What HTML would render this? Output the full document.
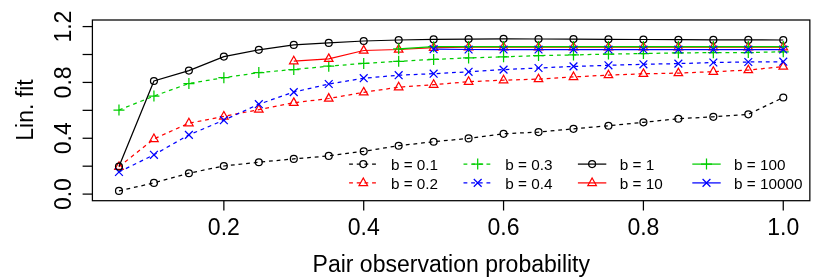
<!DOCTYPE html>
<html><head><meta charset="utf-8"><title>chart</title>
<style>html,body{margin:0;padding:0;background:#fff}svg{display:block;will-change:transform}text{font-family:"Liberation Sans",sans-serif;fill:#000}</style>
</head><body>
<svg width="830" height="277" viewBox="0 0 830 277" stroke-width="1.25">
<rect width="830" height="277" fill="#fff"/>
<path d="M118.97 190.90L153.93 182.90L188.90 173.20L223.86 166.00L258.82 162.20L293.78 158.90L328.75 155.90L363.71 151.30L398.67 145.70L433.64 141.70L468.60 138.40L503.56 133.80L538.53 132.10L573.49 128.80L608.45 125.70L643.42 122.30L678.38 118.70L713.34 116.80L748.30 114.30L783.27 97.50" fill="none" stroke="#000000" stroke-dasharray="3.83 3.83"/>
<circle cx="118.97" cy="190.90" r="3.45" fill="none" stroke="#000000"/>
<circle cx="153.93" cy="182.90" r="3.45" fill="none" stroke="#000000"/>
<circle cx="188.90" cy="173.20" r="3.45" fill="none" stroke="#000000"/>
<circle cx="223.86" cy="166.00" r="3.45" fill="none" stroke="#000000"/>
<circle cx="258.82" cy="162.20" r="3.45" fill="none" stroke="#000000"/>
<circle cx="293.78" cy="158.90" r="3.45" fill="none" stroke="#000000"/>
<circle cx="328.75" cy="155.90" r="3.45" fill="none" stroke="#000000"/>
<circle cx="363.71" cy="151.30" r="3.45" fill="none" stroke="#000000"/>
<circle cx="398.67" cy="145.70" r="3.45" fill="none" stroke="#000000"/>
<circle cx="433.64" cy="141.70" r="3.45" fill="none" stroke="#000000"/>
<circle cx="468.60" cy="138.40" r="3.45" fill="none" stroke="#000000"/>
<circle cx="503.56" cy="133.80" r="3.45" fill="none" stroke="#000000"/>
<circle cx="538.53" cy="132.10" r="3.45" fill="none" stroke="#000000"/>
<circle cx="573.49" cy="128.80" r="3.45" fill="none" stroke="#000000"/>
<circle cx="608.45" cy="125.70" r="3.45" fill="none" stroke="#000000"/>
<circle cx="643.42" cy="122.30" r="3.45" fill="none" stroke="#000000"/>
<circle cx="678.38" cy="118.70" r="3.45" fill="none" stroke="#000000"/>
<circle cx="713.34" cy="116.80" r="3.45" fill="none" stroke="#000000"/>
<circle cx="748.30" cy="114.30" r="3.45" fill="none" stroke="#000000"/>
<circle cx="783.27" cy="97.50" r="3.45" fill="none" stroke="#000000"/>
<path d="M118.97 166.80L153.93 138.90L188.90 123.20L223.86 116.40L258.82 109.60L293.78 102.80L328.75 98.50L363.71 92.30L398.67 87.20L433.64 84.70L468.60 81.70L503.56 80.20L538.53 79.10L573.49 76.90L608.45 75.10L643.42 73.80L678.38 73.10L713.34 71.70L748.30 70.10L783.27 66.60" fill="none" stroke="#FF0000" stroke-dasharray="3.83 3.83"/>
<path d="M118.97 161.90L123.22 169.40L114.72 169.40Z" fill="none" stroke="#FF0000"/>
<path d="M153.93 134.00L158.18 141.50L149.68 141.50Z" fill="none" stroke="#FF0000"/>
<path d="M188.90 118.30L193.15 125.80L184.65 125.80Z" fill="none" stroke="#FF0000"/>
<path d="M223.86 111.50L228.11 119.00L219.61 119.00Z" fill="none" stroke="#FF0000"/>
<path d="M258.82 104.70L263.07 112.20L254.57 112.20Z" fill="none" stroke="#FF0000"/>
<path d="M293.78 97.90L298.03 105.40L289.53 105.40Z" fill="none" stroke="#FF0000"/>
<path d="M328.75 93.60L333.00 101.10L324.50 101.10Z" fill="none" stroke="#FF0000"/>
<path d="M363.71 87.40L367.96 94.90L359.46 94.90Z" fill="none" stroke="#FF0000"/>
<path d="M398.67 82.30L402.92 89.80L394.42 89.80Z" fill="none" stroke="#FF0000"/>
<path d="M433.64 79.80L437.89 87.30L429.39 87.30Z" fill="none" stroke="#FF0000"/>
<path d="M468.60 76.80L472.85 84.30L464.35 84.30Z" fill="none" stroke="#FF0000"/>
<path d="M503.56 75.30L507.81 82.80L499.31 82.80Z" fill="none" stroke="#FF0000"/>
<path d="M538.53 74.20L542.78 81.70L534.28 81.70Z" fill="none" stroke="#FF0000"/>
<path d="M573.49 72.00L577.74 79.50L569.24 79.50Z" fill="none" stroke="#FF0000"/>
<path d="M608.45 70.20L612.70 77.70L604.20 77.70Z" fill="none" stroke="#FF0000"/>
<path d="M643.42 68.90L647.67 76.40L639.17 76.40Z" fill="none" stroke="#FF0000"/>
<path d="M678.38 68.20L682.63 75.70L674.13 75.70Z" fill="none" stroke="#FF0000"/>
<path d="M713.34 66.80L717.59 74.30L709.09 74.30Z" fill="none" stroke="#FF0000"/>
<path d="M748.30 65.20L752.55 72.70L744.05 72.70Z" fill="none" stroke="#FF0000"/>
<path d="M783.27 61.70L787.52 69.20L779.02 69.20Z" fill="none" stroke="#FF0000"/>
<path d="M118.97 110.00L153.93 96.10L188.90 83.50L223.86 77.70L258.82 72.60L293.78 69.50L328.75 66.20L363.71 63.40L398.67 61.30L433.64 59.40L468.60 57.90L503.56 56.80L538.53 55.60L573.49 54.90L608.45 54.10L643.42 53.60L678.38 52.80L713.34 52.70L748.30 52.50L783.27 51.80" fill="none" stroke="#00CD00" stroke-dasharray="3.83 3.83"/>
<path d="M113.47 110.00H124.47M118.97 104.50V115.50" fill="none" stroke="#00CD00"/>
<path d="M148.43 96.10H159.43M153.93 90.60V101.60" fill="none" stroke="#00CD00"/>
<path d="M183.40 83.50H194.40M188.90 78.00V89.00" fill="none" stroke="#00CD00"/>
<path d="M218.36 77.70H229.36M223.86 72.20V83.20" fill="none" stroke="#00CD00"/>
<path d="M253.32 72.60H264.32M258.82 67.10V78.10" fill="none" stroke="#00CD00"/>
<path d="M288.28 69.50H299.28M293.78 64.00V75.00" fill="none" stroke="#00CD00"/>
<path d="M323.25 66.20H334.25M328.75 60.70V71.70" fill="none" stroke="#00CD00"/>
<path d="M358.21 63.40H369.21M363.71 57.90V68.90" fill="none" stroke="#00CD00"/>
<path d="M393.17 61.30H404.17M398.67 55.80V66.80" fill="none" stroke="#00CD00"/>
<path d="M428.14 59.40H439.14M433.64 53.90V64.90" fill="none" stroke="#00CD00"/>
<path d="M463.10 57.90H474.10M468.60 52.40V63.40" fill="none" stroke="#00CD00"/>
<path d="M498.06 56.80H509.06M503.56 51.30V62.30" fill="none" stroke="#00CD00"/>
<path d="M533.03 55.60H544.03M538.53 50.10V61.10" fill="none" stroke="#00CD00"/>
<path d="M567.99 54.90H578.99M573.49 49.40V60.40" fill="none" stroke="#00CD00"/>
<path d="M602.95 54.10H613.95M608.45 48.60V59.60" fill="none" stroke="#00CD00"/>
<path d="M637.92 53.60H648.92M643.42 48.10V59.10" fill="none" stroke="#00CD00"/>
<path d="M672.88 52.80H683.88M678.38 47.30V58.30" fill="none" stroke="#00CD00"/>
<path d="M707.84 52.70H718.84M713.34 47.20V58.20" fill="none" stroke="#00CD00"/>
<path d="M742.80 52.50H753.80M748.30 47.00V58.00" fill="none" stroke="#00CD00"/>
<path d="M777.77 51.80H788.77M783.27 46.30V57.30" fill="none" stroke="#00CD00"/>
<path d="M118.97 172.00L153.93 154.80L188.90 134.90L223.86 120.20L258.82 104.20L293.78 92.10L328.75 84.00L363.71 78.20L398.67 75.20L433.64 73.70L468.60 71.80L503.56 69.60L538.53 68.00L573.49 66.40L608.45 65.30L643.42 64.30L678.38 63.60L713.34 62.50L748.30 62.00L783.27 61.70" fill="none" stroke="#0000FF" stroke-dasharray="3.83 3.83"/>
<path d="M115.07 168.10L122.87 175.90M115.07 175.90L122.87 168.10" fill="none" stroke="#0000FF"/>
<path d="M150.03 150.90L157.83 158.70M150.03 158.70L157.83 150.90" fill="none" stroke="#0000FF"/>
<path d="M185.00 131.00L192.80 138.80M185.00 138.80L192.80 131.00" fill="none" stroke="#0000FF"/>
<path d="M219.96 116.30L227.76 124.10M219.96 124.10L227.76 116.30" fill="none" stroke="#0000FF"/>
<path d="M254.92 100.30L262.72 108.10M254.92 108.10L262.72 100.30" fill="none" stroke="#0000FF"/>
<path d="M289.88 88.20L297.68 96.00M289.88 96.00L297.68 88.20" fill="none" stroke="#0000FF"/>
<path d="M324.85 80.10L332.65 87.90M324.85 87.90L332.65 80.10" fill="none" stroke="#0000FF"/>
<path d="M359.81 74.30L367.61 82.10M359.81 82.10L367.61 74.30" fill="none" stroke="#0000FF"/>
<path d="M394.77 71.30L402.57 79.10M394.77 79.10L402.57 71.30" fill="none" stroke="#0000FF"/>
<path d="M429.74 69.80L437.54 77.60M429.74 77.60L437.54 69.80" fill="none" stroke="#0000FF"/>
<path d="M464.70 67.90L472.50 75.70M464.70 75.70L472.50 67.90" fill="none" stroke="#0000FF"/>
<path d="M499.66 65.70L507.46 73.50M499.66 73.50L507.46 65.70" fill="none" stroke="#0000FF"/>
<path d="M534.63 64.10L542.43 71.90M534.63 71.90L542.43 64.10" fill="none" stroke="#0000FF"/>
<path d="M569.59 62.50L577.39 70.30M569.59 70.30L577.39 62.50" fill="none" stroke="#0000FF"/>
<path d="M604.55 61.40L612.35 69.20M604.55 69.20L612.35 61.40" fill="none" stroke="#0000FF"/>
<path d="M639.52 60.40L647.32 68.20M639.52 68.20L647.32 60.40" fill="none" stroke="#0000FF"/>
<path d="M674.48 59.70L682.28 67.50M674.48 67.50L682.28 59.70" fill="none" stroke="#0000FF"/>
<path d="M709.44 58.60L717.24 66.40M709.44 66.40L717.24 58.60" fill="none" stroke="#0000FF"/>
<path d="M744.40 58.10L752.20 65.90M744.40 65.90L752.20 58.10" fill="none" stroke="#0000FF"/>
<path d="M779.37 57.80L787.17 65.60M779.37 65.60L787.17 57.80" fill="none" stroke="#0000FF"/>
<path d="M118.97 166.60L153.93 81.00L188.90 70.60L223.86 56.60L258.82 49.80L293.78 44.90L328.75 42.90L363.71 41.00L398.67 40.00L433.64 39.40L468.60 39.10L503.56 38.80L538.53 39.00L573.49 39.10L608.45 39.30L643.42 39.50L678.38 39.70L713.34 39.90L748.30 39.90L783.27 40.00" fill="none" stroke="#000000"/>
<circle cx="118.97" cy="166.60" r="3.45" fill="none" stroke="#000000"/>
<circle cx="153.93" cy="81.00" r="3.45" fill="none" stroke="#000000"/>
<circle cx="188.90" cy="70.60" r="3.45" fill="none" stroke="#000000"/>
<circle cx="223.86" cy="56.60" r="3.45" fill="none" stroke="#000000"/>
<circle cx="258.82" cy="49.80" r="3.45" fill="none" stroke="#000000"/>
<circle cx="293.78" cy="44.90" r="3.45" fill="none" stroke="#000000"/>
<circle cx="328.75" cy="42.90" r="3.45" fill="none" stroke="#000000"/>
<circle cx="363.71" cy="41.00" r="3.45" fill="none" stroke="#000000"/>
<circle cx="398.67" cy="40.00" r="3.45" fill="none" stroke="#000000"/>
<circle cx="433.64" cy="39.40" r="3.45" fill="none" stroke="#000000"/>
<circle cx="468.60" cy="39.10" r="3.45" fill="none" stroke="#000000"/>
<circle cx="503.56" cy="38.80" r="3.45" fill="none" stroke="#000000"/>
<circle cx="538.53" cy="39.00" r="3.45" fill="none" stroke="#000000"/>
<circle cx="573.49" cy="39.10" r="3.45" fill="none" stroke="#000000"/>
<circle cx="608.45" cy="39.30" r="3.45" fill="none" stroke="#000000"/>
<circle cx="643.42" cy="39.50" r="3.45" fill="none" stroke="#000000"/>
<circle cx="678.38" cy="39.70" r="3.45" fill="none" stroke="#000000"/>
<circle cx="713.34" cy="39.90" r="3.45" fill="none" stroke="#000000"/>
<circle cx="748.30" cy="39.90" r="3.45" fill="none" stroke="#000000"/>
<circle cx="783.27" cy="40.00" r="3.45" fill="none" stroke="#000000"/>
<path d="M293.78 61.20L328.75 58.80L363.71 50.50L398.67 49.50L433.64 47.70L468.60 47.20L503.56 47.20L538.53 47.20L573.49 47.20L608.45 47.20L643.42 47.20L678.38 47.20L713.34 47.20L748.30 47.20L783.27 47.20" fill="none" stroke="#FF0000"/>
<path d="M293.78 56.30L298.03 63.80L289.53 63.80Z" fill="none" stroke="#FF0000"/>
<path d="M328.75 53.90L333.00 61.40L324.50 61.40Z" fill="none" stroke="#FF0000"/>
<path d="M363.71 45.60L367.96 53.10L359.46 53.10Z" fill="none" stroke="#FF0000"/>
<path d="M398.67 44.60L402.92 52.10L394.42 52.10Z" fill="none" stroke="#FF0000"/>
<path d="M433.64 42.80L437.89 50.30L429.39 50.30Z" fill="none" stroke="#FF0000"/>
<path d="M468.60 42.30L472.85 49.80L464.35 49.80Z" fill="none" stroke="#FF0000"/>
<path d="M503.56 42.30L507.81 49.80L499.31 49.80Z" fill="none" stroke="#FF0000"/>
<path d="M538.53 42.30L542.78 49.80L534.28 49.80Z" fill="none" stroke="#FF0000"/>
<path d="M573.49 42.30L577.74 49.80L569.24 49.80Z" fill="none" stroke="#FF0000"/>
<path d="M608.45 42.30L612.70 49.80L604.20 49.80Z" fill="none" stroke="#FF0000"/>
<path d="M643.42 42.30L647.67 49.80L639.17 49.80Z" fill="none" stroke="#FF0000"/>
<path d="M678.38 42.30L682.63 49.80L674.13 49.80Z" fill="none" stroke="#FF0000"/>
<path d="M713.34 42.30L717.59 49.80L709.09 49.80Z" fill="none" stroke="#FF0000"/>
<path d="M748.30 42.30L752.55 49.80L744.05 49.80Z" fill="none" stroke="#FF0000"/>
<path d="M783.27 42.30L787.52 49.80L779.02 49.80Z" fill="none" stroke="#FF0000"/>
<path d="M398.67 48.80L433.64 46.70L468.60 46.60L503.56 46.60L538.53 46.60L573.49 46.60L608.45 46.60L643.42 46.60L678.38 46.60L713.34 46.60L748.30 46.60L783.27 46.60" fill="none" stroke="#00CD00"/>
<path d="M393.17 48.80H404.17M398.67 43.30V54.30" fill="none" stroke="#00CD00"/>
<path d="M428.14 46.70H439.14M433.64 41.20V52.20" fill="none" stroke="#00CD00"/>
<path d="M463.10 46.60H474.10M468.60 41.10V52.10" fill="none" stroke="#00CD00"/>
<path d="M498.06 46.60H509.06M503.56 41.10V52.10" fill="none" stroke="#00CD00"/>
<path d="M533.03 46.60H544.03M538.53 41.10V52.10" fill="none" stroke="#00CD00"/>
<path d="M567.99 46.60H578.99M573.49 41.10V52.10" fill="none" stroke="#00CD00"/>
<path d="M602.95 46.60H613.95M608.45 41.10V52.10" fill="none" stroke="#00CD00"/>
<path d="M637.92 46.60H648.92M643.42 41.10V52.10" fill="none" stroke="#00CD00"/>
<path d="M672.88 46.60H683.88M678.38 41.10V52.10" fill="none" stroke="#00CD00"/>
<path d="M707.84 46.60H718.84M713.34 41.10V52.10" fill="none" stroke="#00CD00"/>
<path d="M742.80 46.60H753.80M748.30 41.10V52.10" fill="none" stroke="#00CD00"/>
<path d="M777.77 46.60H788.77M783.27 41.10V52.10" fill="none" stroke="#00CD00"/>
<path d="M433.64 49.20L468.60 49.50L503.56 49.50L538.53 49.50L573.49 49.50L608.45 49.50L643.42 49.50L678.38 49.50L713.34 49.50L748.30 49.50L783.27 49.50" fill="none" stroke="#0000FF"/>
<path d="M429.74 45.30L437.54 53.10M429.74 53.10L437.54 45.30" fill="none" stroke="#0000FF"/>
<path d="M464.70 45.60L472.50 53.40M464.70 53.40L472.50 45.60" fill="none" stroke="#0000FF"/>
<path d="M499.66 45.60L507.46 53.40M499.66 53.40L507.46 45.60" fill="none" stroke="#0000FF"/>
<path d="M534.63 45.60L542.43 53.40M534.63 53.40L542.43 45.60" fill="none" stroke="#0000FF"/>
<path d="M569.59 45.60L577.39 53.40M569.59 53.40L577.39 45.60" fill="none" stroke="#0000FF"/>
<path d="M604.55 45.60L612.35 53.40M604.55 53.40L612.35 45.60" fill="none" stroke="#0000FF"/>
<path d="M639.52 45.60L647.32 53.40M639.52 53.40L647.32 45.60" fill="none" stroke="#0000FF"/>
<path d="M674.48 45.60L682.28 53.40M674.48 53.40L682.28 45.60" fill="none" stroke="#0000FF"/>
<path d="M709.44 45.60L717.24 53.40M709.44 53.40L717.24 45.60" fill="none" stroke="#0000FF"/>
<path d="M744.40 45.60L752.20 53.40M744.40 53.40L752.20 45.60" fill="none" stroke="#0000FF"/>
<path d="M779.37 45.60L787.17 53.40M779.37 53.40L787.17 45.60" fill="none" stroke="#0000FF"/>
<rect x="92.4" y="20.0" width="717.45" height="180.7" fill="none" stroke="#000"/>
<path d="M223.86 200.7V210.5" stroke="#000"/>
<path d="M363.71 200.7V210.5" stroke="#000"/>
<path d="M503.56 200.7V210.5" stroke="#000"/>
<path d="M643.41 200.7V210.5" stroke="#000"/>
<path d="M783.26 200.7V210.5" stroke="#000"/>
<path d="M92.4 194.10H82.60000000000001" stroke="#000"/>
<path d="M92.4 166.18H82.60000000000001" stroke="#000"/>
<path d="M92.4 138.26H82.60000000000001" stroke="#000"/>
<path d="M92.4 110.34H82.60000000000001" stroke="#000"/>
<path d="M92.4 82.42H82.60000000000001" stroke="#000"/>
<path d="M92.4 54.50H82.60000000000001" stroke="#000"/>
<path d="M92.4 26.58H82.60000000000001" stroke="#000"/>
<text x="223.86" y="235.0" font-size="23" text-anchor="middle">0.2</text>
<text x="363.71" y="235.0" font-size="23" text-anchor="middle">0.4</text>
<text x="503.56" y="235.0" font-size="23" text-anchor="middle">0.6</text>
<text x="643.41" y="235.0" font-size="23" text-anchor="middle">0.8</text>
<text x="783.26" y="235.0" font-size="23" text-anchor="middle">1.0</text>
<text transform="translate(70.6 194.10) rotate(-90)" font-size="23" text-anchor="middle">0.0</text>
<text transform="translate(70.6 138.26) rotate(-90)" font-size="23" text-anchor="middle">0.4</text>
<text transform="translate(70.6 82.42) rotate(-90)" font-size="23" text-anchor="middle">0.8</text>
<text transform="translate(70.6 26.58) rotate(-90)" font-size="23" text-anchor="middle">1.2</text>
<text x="451.3" y="271.8" font-size="23" text-anchor="middle">Pair observation probability</text>
<text transform="translate(32.9 110.0) rotate(-90)" font-size="23" text-anchor="middle">Lin. fit</text>
<path d="M349.10 164.1H377.50" stroke="#000000" stroke-dasharray="3.83 3.83"/>
<circle cx="363.30" cy="164.10" r="3.45" fill="none" stroke="#000000"/>
<text x="390.90" y="169.80" font-size="15.3">b = 0.1</text>
<path d="M349.10 182.9H377.50" stroke="#FF0000" stroke-dasharray="3.83 3.83"/>
<path d="M363.30 178.00L367.55 185.50L359.05 185.50Z" fill="none" stroke="#FF0000"/>
<text x="390.90" y="188.60" font-size="15.3">b = 0.2</text>
<path d="M463.50 164.1H491.90" stroke="#00CD00" stroke-dasharray="3.83 3.83"/>
<path d="M472.20 164.10H483.20M477.70 158.60V169.60" fill="none" stroke="#00CD00"/>
<text x="505.30" y="169.80" font-size="15.3">b = 0.3</text>
<path d="M463.50 182.9H491.90" stroke="#0000FF" stroke-dasharray="3.83 3.83"/>
<path d="M473.80 179.00L481.60 186.80M473.80 186.80L481.60 179.00" fill="none" stroke="#0000FF"/>
<text x="505.30" y="188.60" font-size="15.3">b = 0.4</text>
<path d="M577.90 164.1H606.30" stroke="#000000"/>
<circle cx="592.10" cy="164.10" r="3.45" fill="none" stroke="#000000"/>
<text x="619.70" y="169.80" font-size="15.3">b = 1</text>
<path d="M577.90 182.9H606.30" stroke="#FF0000"/>
<path d="M592.10 178.00L596.35 185.50L587.85 185.50Z" fill="none" stroke="#FF0000"/>
<text x="619.70" y="188.60" font-size="15.3">b = 10</text>
<path d="M692.30 164.1H720.70" stroke="#00CD00"/>
<path d="M701.00 164.10H712.00M706.50 158.60V169.60" fill="none" stroke="#00CD00"/>
<text x="734.10" y="169.80" font-size="15.3">b = 100</text>
<path d="M692.30 182.9H720.70" stroke="#0000FF"/>
<path d="M702.60 179.00L710.40 186.80M702.60 186.80L710.40 179.00" fill="none" stroke="#0000FF"/>
<text x="734.10" y="188.60" font-size="15.3">b = 10000</text>
</svg>
</body></html>
